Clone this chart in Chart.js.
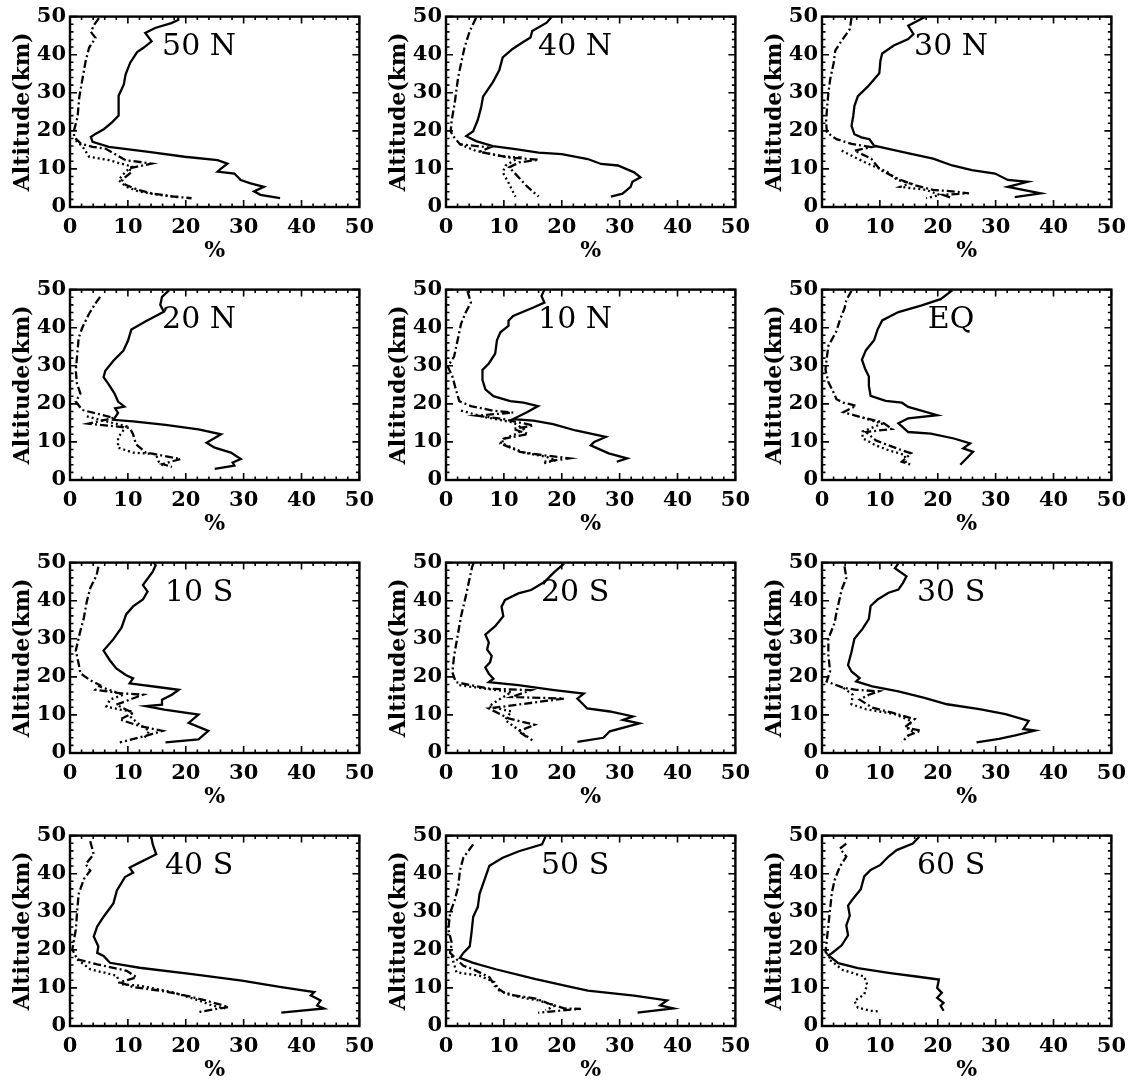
<!DOCTYPE html>
<html>
<head>
<meta charset="utf-8">
<script src="https://cdn.jsdelivr.net/npm/chart.js@4/dist/chart.umd.min.js"></script>
<style>
  html, body { margin: 0; padding: 0; background: #fff; overflow: hidden; }
  #grid { position: relative; width: 1136px; height: 1082px; }
  #grid canvas { position: absolute; }
</style>
</head>
<body>
<div id="grid"></div>
<script>
// Latitude bands, left to right, top to bottom
const latitudes = ['50 N', '40 N', '30 N', '20 N', '10 N', 'EQ', '10 S', '20 S', '30 S', '40 S', '50 S', '60 S'];
const pctTicks = [0, 10, 20, 30, 40, 50];
const altTicks = [0, 10, 20, 30, 40, 50];

// Profiles: [percent, altitude (km)]
const solid50N = [[18.7,50],[18.7,49.1],[17.5,48.3],[14.7,47],[13.0,45.7],[14.1,43.5],[12.7,41.8],[11.6,40.7],[10.4,37.9],[9.6,34.8],[9.3,32.2],[8.4,29.2],[8.4,26.2],[8.4,24],[7.3,22.3],[5.9,20.5],[4.4,19.2],[3.6,18.4],[3.9,17.1],[6.7,15.8],[13.6,14.5],[19.8,13.2],[25.5,12.3],[27.2,11.4],[26.1,10.1],[25.5,9.3],[28.4,8.8],[29.5,7.1],[31.2,6.2],[33.5,5.3],[31.8,4.1],[32.9,3.2],[36.3,2.3]];
const dashdot50N = [[5.0,49.6],[4.2,47.9],[3.6,46],[4.4,44.4],[3.3,41.8],[2.7,38.3],[2.2,34],[1.6,28.8],[1.3,23.6],[0.7,20.1],[0.7,18.4],[1.9,16.6],[3.9,15.8],[6.2,15.3],[9.6,12.3],[14.1,11.4],[10.1,10.1],[10.7,9.3],[9.0,7.1],[9.6,5.8],[11.8,4.5],[14.1,3.6],[17.5,2.8],[21,2.3]];
const dotted50N = [[1,17.5],[2.2,15.8],[3.3,13.2],[6.7,12.3],[10.7,10.6],[9.6,9.3],[8.4,7.1],[9.6,5.4],[11.8,4.1],[15.3,3.2],[18.7,2.6]];

const solid40N = [[18.3,50],[17.4,48.4],[14.9,46.2],[14.6,44.5],[13.2,43.2],[11.5,41.5],[9.8,39.3],[9.2,35.9],[8.1,32.8],[6.4,29],[6.1,26.4],[5.5,22.9],[4.7,19.9],[3.5,18.6],[5.2,17.3],[8.1,16],[12,15.2],[16,14.3],[20,13.9],[24.5,12.6],[26.8,11.3],[29.7,10.9],[32.5,9.1],[33.6,7.8],[32.2,6.6],[31.9,5.3],[30.5,3.5],[28.5,2.7]];
const dashdot40N = [[5.2,49.7],[4.1,46.2],[3.2,41.9],[2.7,38.4],[2.1,34.1],[1.8,30.7],[1.5,27.2],[1.0,22.9],[0.8,19.9],[1.25,18.6],[2.4,16.5],[7.5,15.6],[5.8,14.5],[10.9,13],[16,12.4],[12.6,11.7],[10.9,10.4],[12,8.7],[13.8,5.7],[16,2.7]];
const dotted40N = [[2.4,16.5],[5.2,14.7],[9.8,13.3],[12.6,13],[10.3,10.9],[9.8,9.1],[10.9,6.1],[12,2.7]];

const solid30N = [[17.8,49.9],[14.9,47.6],[15.8,45.4],[14.9,44.1],[12.4,42.4],[10.4,40.3],[10.1,38.5],[9.9,35.1],[7.9,31.6],[6.2,29.1],[5.6,26.5],[5.4,23.9],[5.1,21.3],[5.6,19.1],[6.8,18.3],[8.2,17.8],[9.0,16.1],[11.3,15.3],[15.2,14],[19.2,12.7],[22.5,10.9],[25.9,9.7],[29.9,8.8],[32.1,7.1],[35.5,6.6],[32.1,5.3],[37.8,3.6],[33.3,2.6]];
const dashdot30N = [[5.1,49.7],[4.8,46.7],[3.4,43.7],[2.3,41.1],[2,37.7],[1.4,33.4],[1.1,29.9],[0.85,25.6],[0.7,22.2],[0.85,19.6],[2.5,17.8],[5.1,16.6],[8.5,15.7],[5.6,14.8],[8.5,12.7],[10.1,9.7],[13,7.5],[15.8,5.8],[19.2,4.5],[22.5,4.1],[25.4,3.6],[20.9,3.2],[22.5,2.3]];
const dotted30N = [[3.4,14.8],[5.6,13.1],[7.9,11.4],[11.3,9.2],[13,7.1],[15.2,6.2],[13.5,5.3],[18,4.5],[20.3,3.2],[18,2.3]];

const solid20N = [[17.1,49.8],[15.9,48.1],[15.6,46],[16.2,44.2],[13.1,41.7],[10.6,39.5],[10,36.5],[9.2,33.9],[7.5,31.3],[6.1,28.7],[5.8,27],[6.6,25.3],[7.7,22.7],[8.3,20.6],[9.4,19.3],[7.8,18.8],[8.3,17.6],[7.5,15.8],[10.9,15.4],[16.5,14.5],[22.2,13.3],[26.1,12],[23.6,9.8],[25,8.5],[27.8,7.2],[29.5,5.5],[28.1,4.6],[28.4,3.8],[25,2.9]];
const dashdot20N = [[5.2,48.1],[4.4,46.4],[3.2,43.4],[2.1,39.9],[1.5,37.3],[1.2,32.2],[1,28.7],[1.2,25.3],[1.8,22.7],[1,20.6],[2.1,18.4],[7.5,16.3],[3.2,14.8],[10.3,13.7],[10.9,12],[11.4,9.4],[13.1,7.2],[16,6.4],[19.1,5.5],[16,4.2],[17.6,3.4]];
const dotted20N = [[2.9,16.7],[6.3,15.4],[9.7,14.1],[8.3,11.1],[8.3,8.5],[10.9,7.2],[14.8,6.8],[15.4,4.6],[16.5,3.4]];

const solid10N = [[17,50],[16.5,48.3],[17,46.6],[15.1,45.3],[11.6,43.1],[10.8,41.8],[10.8,40.5],[9.4,38.8],[8.8,36.7],[8.5,33.2],[7.4,30.6],[6.3,28.9],[6.3,26.3],[6.8,23.8],[8.2,22],[11.1,20.7],[13.4,20.3],[15.9,19.4],[13.9,17.7],[11.6,16],[15.1,15.6],[18.5,14.7],[22.4,13],[27.6,11.3],[25.6,10],[25,9.1],[28.1,7],[31.3,5.7],[29.5,4.8]];
const dashdot10N = [[3.7,49.6],[4.3,46.6],[3.4,44],[2.6,41],[2,36.7],[1.4,32.4],[0.3,29.8],[1.1,27.2],[1.7,23.8],[2.3,20.7],[4.3,19.4],[8.2,18.2],[11.6,17.7],[5.4,16.9],[9.9,16],[15.1,14.3],[11.6,13.4],[14.2,12.1],[9.9,10.8],[9.4,9.6],[12.8,7.4],[16.8,6.5],[21.3,5.7],[17,4.8]];
const dotted10N = [[2.6,18.2],[7.1,16.4],[11.6,15.1],[13.4,13.4],[12.2,12.1],[9.9,10.8],[9.7,9.6],[13.4,7.2],[17.3,6.1],[19,5.2],[16.8,4.4]];

const solidEQ = [[22.5,49.8],[20.5,47.5],[17.1,45.8],[13.2,44.1],[10.4,41.9],[9.6,39.5],[9,36.7],[7.6,34.1],[6.9,31.6],[7.5,29],[8.1,27.2],[8.1,24.7],[8.4,22.1],[11,20.8],[13.8,20.3],[14.9,19.2],[19.9,17],[14.9,16.2],[13.2,14.9],[14.9,12.6],[18.8,12.2],[22.8,10.9],[25.6,9.6],[24.4,8.3],[26.1,7.4],[23.9,4]];
const dashdotEQ = [[5.1,49.7],[4.2,47.2],[3.9,45.1],[3.1,42.1],[2.5,39.1],[1.1,35.2],[0.8,31.7],[0.6,29],[1.1,25.7],[2,23],[2.5,21.2],[3.7,20.3],[5.9,19.5],[3.7,17.8],[7,16.4],[10.4,15.2],[12.1,13.4],[7.6,12.6],[9.3,10.4],[11.5,9.1],[13.8,7.8],[15.4,7],[13.8,4.8],[15.4,4]];
const dottedEQ = [[7,16.4],[10.4,14.8],[7,12.7],[7,11],[9.3,9.1],[11.5,7.8],[14.3,6.6],[14.5,4.5]];

const solid10S = [[14.5,50],[14.8,49.3],[14.3,47.6],[12.6,44.1],[13.4,42.4],[12.6,40.3],[10.9,38.5],[9.7,36.4],[8.9,32.9],[7.5,29.9],[5.8,26.9],[6.9,24.3],[8,22.2],[9.7,20.4],[10.9,19.6],[10.3,18.3],[14.8,17.4],[18.8,16.6],[17.6,15.3],[15.9,14],[15.9,12.7],[13.1,12.3],[16.3,11.4],[22.2,10.1],[20.5,7.9],[23.9,5.8],[22.2,3.6],[16.5,2.8]];
const dashdot10S = [[4.9,48.9],[4.6,46.7],[3.5,43.3],[2.9,39.8],[2.4,35.5],[1.8,32.1],[1,26.9],[1.5,23.4],[1.8,20.9],[3.5,19.1],[5.2,17.8],[4.4,16.6],[8.6,15.7],[12.6,15.3],[8,12.7],[10.9,10.5],[8.6,8.8],[12,7.1],[16,5.8],[13.1,4.5],[8.6,2.8]];
const dotted10S = [[5.2,17.4],[9.2,15.3],[6.9,14],[6.3,12.2],[8.6,11.4],[10.9,10.9],[10.3,9.7],[12,7.5],[13.7,5.8],[13.1,4.5],[12.6,3.6]];

const solid20S = [[20.4,49.7],[18.7,47.5],[17,44.9],[14.7,42.8],[12.5,41.9],[10.2,40.2],[9.6,38.4],[9.9,35.9],[8.5,33.3],[6.8,31.1],[7.4,29],[7.1,27.2],[7.9,25.5],[7.6,23.8],[6.8,22.5],[7.4,20.8],[8.2,19.5],[7.4,18.6],[12.5,17.8],[18.7,16.5],[23.8,15.6],[22.7,14.3],[24.4,11.7],[28.3,10.9],[32.3,9.6],[30.6,8.7],[33.4,7.8],[28.3,5.7],[27.2,4],[22.7,2.9]];
const dashdot20S = [[4.8,50],[4.5,48.8],[4,45.3],[3.4,41],[2.6,35.9],[2,30.7],[1.4,25.5],[1.1,21.2],[1.7,18.6],[7.4,16.9],[14.7,16.5],[11.3,14.7],[20.4,14.3],[7.4,11.7],[10.8,9.1],[15.3,7.4],[12.5,5.7],[14,4.2]];
const dotted20S = [[2.3,17.8],[11.3,16],[8.5,13.4],[7.4,12.2],[11.3,10.9],[10.2,8.7],[12.5,6.1],[13.6,4.8],[15.3,2.9]];

const solid30S = [[13.2,49.8],[12.6,48.5],[14.6,46.4],[14,44.7],[13.2,42.9],[11.5,42.1],[9.6,40.3],[8.4,38.6],[8.1,35.2],[7,32.6],[5.6,30],[5.1,26.6],[4.5,23.1],[5.1,21.4],[6.5,19.7],[5.9,18.8],[8.7,17.5],[13.2,16.2],[17.7,14.5],[21.6,12.8],[27.2,11.5],[31.7,10.2],[35.7,8.4],[34.8,6.3],[36.8,5.9],[33.4,4.6],[30.6,3.7],[26.7,2.8]];
const dashdot30S = [[3.9,49],[4.2,46],[3.4,42.9],[2.5,36.9],[2.2,34.3],[1.1,30],[1.1,25.7],[1.4,21.4],[0.8,18.8],[3.7,17.1],[5.9,16.6],[9.8,16.2],[8.1,15.3],[6.5,14],[8.7,11.9],[12.1,10.6],[16,8.9],[14.3,6.7],[17.1,5.9],[14.9,4.6],[13.8,2.8]];
const dotted30S = [[3.7,17.1],[5.3,15.3],[5.1,12.8],[7.6,11.5],[12.6,10.2],[15.4,8.4],[14.9,6.3],[16,5.4],[14.3,4.1]];

const solid40S = [[14,50],[14.3,47.7],[14.9,45.1],[12,42.9],[10.3,41.6],[10.9,40.3],[9.5,39.1],[8.1,35.6],[7.5,32.2],[5.8,28.7],[4.7,26.1],[4.1,23.5],[4.9,20.9],[4.7,19.2],[5.8,18.4],[6.9,16.6],[12,15.3],[21.1,13.6],[29.7,11.9],[36.5,10.2],[42.2,8.9],[41.6,8],[43.3,6.7],[42.7,5.4],[43.9,4.6],[36.5,3.5]];
const dashdot40S = [[3.5,48.5],[4.1,45.1],[2.7,42.5],[3.5,40.8],[2.4,38.6],[1.5,34.7],[1.25,30.4],[1,25.3],[0.4,20.1],[1.25,17.5],[4.7,16.2],[9.8,14.5],[11.5,12.8],[8.6,11.5],[10.9,10.2],[15.5,9.3],[20,8],[23.4,6.7],[27.4,5],[22.3,3.7]];
const dotted40S = [[1.25,17.5],[3.5,14.9],[8.1,13.2],[8.6,11],[12,10.6],[17.7,8.9],[22.3,6.7],[24.5,5.4],[26.8,4.6]];

const solid50S = [[17.2,49.8],[16.6,47.7],[12.6,45.9],[9.8,44.2],[7.5,42.1],[6.6,38.2],[5.8,34.7],[5.5,31.3],[4.7,28.7],[4.4,24.4],[4.1,20.9],[3,19.2],[2.4,17.9],[4.7,16.6],[8.6,14.9],[15.5,12.3],[21.7,10.2],[24.5,9.3],[32.5,8],[38.2,6.7],[37,5.4],[39.3,4.6],[33.1,3.5]];
const dashdot50S = [[4.7,47.7],[3,44.2],[2.4,40.8],[2.1,36.5],[1.5,33],[0.7,29.6],[0.4,25.3],[1,21.8],[0.7,19.2],[3,15.8],[4.7,14.9],[7.5,12.8],[8.4,10.6],[10.3,8.4],[15.5,7.2],[17.7,5.9],[20.5,4.6],[23.3,4.5],[15.9,3.5]];
const dotted50S = [[1,18.4],[1.8,14.1],[5.8,13.2],[8.4,11.5],[9.2,9.3],[12.6,7.6],[16,6.7],[18.9,5.4],[17.2,4.1]];

const solid60S = [[16.8,49.7],[15.7,47.9],[12.9,46.2],[11.5,44.5],[10.1,42.3],[8.4,41],[7.3,39.3],[6.7,35.9],[5.3,33.3],[4.5,31.6],[4.8,29],[4.2,26.4],[4.5,23.8],[3.4,21.2],[1.7,19.1],[1.1,18.6],[2.8,16.5],[6.2,15.2],[11.8,13.9],[16.3,13],[20.2,12.2],[19.9,10],[20.7,8.7],[19.9,7.4],[21,6.1],[20.5,5.3],[21,4]];
const dashdot60S = [[4.2,47.9],[3.1,46.6],[4.2,44.5],[3.1,41.9],[2.2,38.4],[1.7,35],[1.4,30.7],[1.1,26.4],[0.8,22.1],[0.6,19.5],[1.4,17.8]];
const dotted60S = [[1.4,17.3],[3.6,14.7],[7.3,13],[7.8,10.9],[7.3,8.3],[5.6,6.6],[6.2,4.8],[8.4,4],[10.1,3.8]];

const solidProfiles = [solid50N, solid40N, solid30N, solid20N, solid10N, solidEQ, solid10S, solid20S, solid30S, solid40S, solid50S, solid60S];
const dashdotProfiles = [dashdot50N, dashdot40N, dashdot30N, dashdot20N, dashdot10N, dashdotEQ, dashdot10S, dashdot20S, dashdot30S, dashdot40S, dashdot50S, dashdot60S];
const dottedProfiles = [dotted50N, dotted40N, dotted30N, dotted20N, dotted10N, dottedEQ, dotted10S, dotted20S, dotted30S, dotted40S, dotted50S, dotted60S];

// Page geometry of the plot boxes
const colLeft = [70, 446, 822];
const rowTop = [15, 288, 561, 834];
const boxW = 294, boxH = 192;
const yAxisW = 70, padTop = 15, padRight = 18, xAxisH = 64;

const tickFont = { family: 'DejaVu Serif', size: 21, weight: 'bold' };
const titleFont = { family: 'DejaVu Serif', size: 22, weight: 'bold' };

// Box frame with inward major/minor tick marks, plus the latitude tag
const framePlugin = {
  id: 'frame',
  afterDatasetsDraw(chart, args, opts) {
    const { ctx, chartArea: a, scales: { x, y } } = chart;
    ctx.save();
    ctx.strokeStyle = '#000';
    ctx.lineWidth = 1.6;
    ctx.beginPath();
    for (let v = 0; v <= 50; v += 2) {
      const len = v % 10 === 0 ? 7 : 3.5;
      const px = x.getPixelForValue(v);
      ctx.moveTo(px, a.bottom); ctx.lineTo(px, a.bottom - len);
      ctx.moveTo(px, a.top); ctx.lineTo(px, a.top + len);
      const py = y.getPixelForValue(v);
      ctx.moveTo(a.left, py); ctx.lineTo(a.left + len, py);
      ctx.moveTo(a.right, py); ctx.lineTo(a.right - len, py);
    }
    ctx.stroke();
    ctx.lineWidth = 2.4;
    ctx.strokeRect(a.left, a.top, a.right - a.left, a.bottom - a.top);
    ctx.fillStyle = '#000';
    ctx.font = '30px "DejaVu Serif"';
    ctx.textAlign = 'center';
    ctx.textBaseline = 'alphabetic';
    ctx.fillText(opts.label, x.getPixelForValue(22.3), y.getPixelForValue(40));
    ctx.restore();
  }
};

function toPoints(pairs) {
  return pairs.map(p => ({ x: p[0], y: p[1] }));
}

const grid = document.getElementById('grid');
latitudes.forEach((lat, i) => {
  const col = i % 3, row = Math.floor(i / 3);
  const cv = document.createElement('canvas');
  const w = yAxisW + boxW + padRight, h = padTop + boxH + xAxisH;
  cv.width = w; cv.height = h;
  cv.style.width = w + 'px'; cv.style.height = h + 'px';
  cv.style.left = (colLeft[col] - yAxisW) + 'px';
  cv.style.top = (rowTop[row] - padTop) + 'px';
  grid.appendChild(cv);

  const lineBase = { showLine: true, pointRadius: 0, borderColor: '#000', borderWidth: 2.3, tension: 0, fill: false };
  new Chart(cv, {
    type: 'scatter',
    data: {
      datasets: [
        Object.assign({ label: 'solid', data: toPoints(solidProfiles[i]) }, lineBase),
        Object.assign({ label: 'dotted', data: toPoints(dottedProfiles[i]), borderDash: [2, 3] }, lineBase),
        Object.assign({ label: 'dash-dot', data: toPoints(dashdotProfiles[i]), borderDash: [8, 3, 2, 3] }, lineBase)
      ]
    },
    options: {
      responsive: false,
      animation: false,
      devicePixelRatio: 1,
      layout: { padding: { left: 0, top: padTop, right: padRight, bottom: 0 } },
      plugins: { legend: { display: false }, tooltip: { enabled: false }, frame: { label: lat } },
      scales: {
        x: {
          type: 'linear', min: 0, max: 50,
          afterBuildTicks: s => { s.ticks = pctTicks.map(v => ({ value: v })); },
          afterFit: s => { s.height = xAxisH; },
          grid: { display: false, drawTicks: false },
          border: { display: false },
          ticks: { color: '#000', font: tickFont, padding: 8, maxRotation: 0 },
          title: { display: true, text: '%', color: '#000', font: titleFont, padding: { top: 0, bottom: 7 } }
        },
        y: {
          type: 'linear', min: 0, max: 50,
          afterBuildTicks: s => { s.ticks = altTicks.map(v => ({ value: v })); },
          afterFit: s => { s.width = yAxisW; },
          grid: { display: false, drawTicks: false },
          border: { display: false },
          ticks: { color: '#000', font: tickFont, padding: 4 },
          title: { display: true, text: 'Altitude(km)', color: '#000', font: titleFont, padding: { top: 10, bottom: 0 } }
        }
      }
    },
    plugins: [framePlugin]
  });
});
</script>
</body>
</html>
